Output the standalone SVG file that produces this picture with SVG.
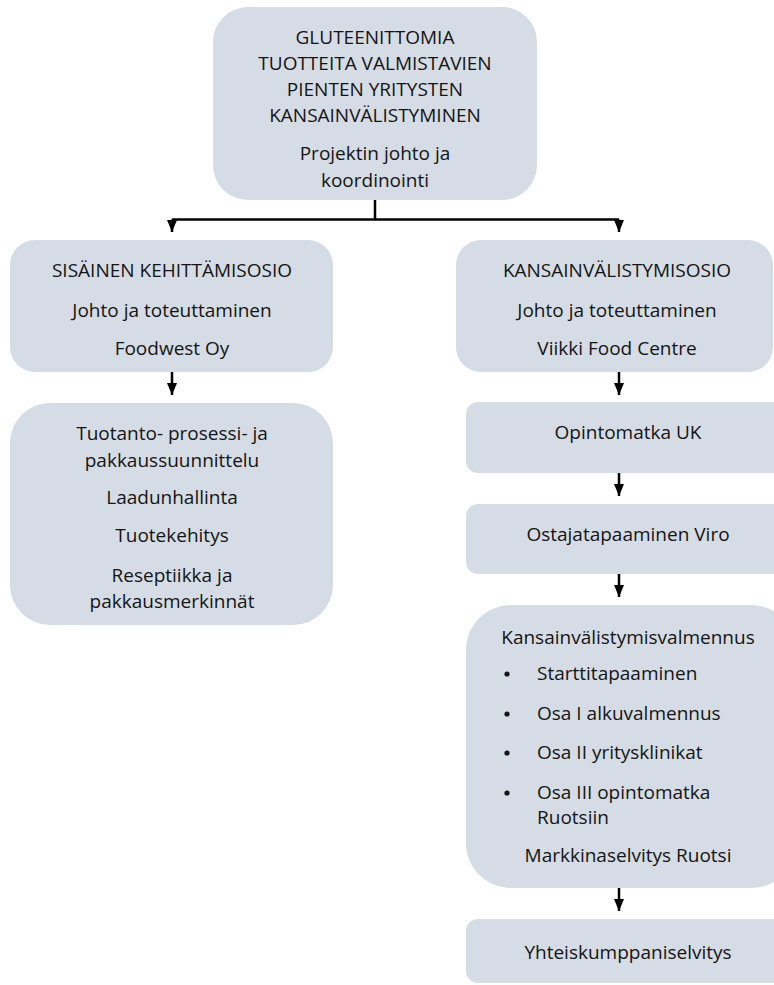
<svg xmlns="http://www.w3.org/2000/svg" width="774" height="985" viewBox="0 0 774 985">
<defs>
<marker id="ah" viewBox="0 0 12 10" refX="12" refY="5" markerWidth="12" markerHeight="10" markerUnits="userSpaceOnUse" orient="auto">
<path d="M0,0 L12,5 L0,10 Z" fill="#000"/>
</marker>
<style>
.box{fill:#D6DCE5;}
.t{font-family:"Open Sans","Liberation Sans",Arial,sans-serif;font-size:19px;fill:#141414;text-anchor:middle;}
.tl{font-family:"Open Sans","Liberation Sans",Arial,sans-serif;font-size:19px;fill:#141414;}
.c{fill:none;stroke:#000;stroke-width:2.5;}
</style>
</defs>
<rect width="774" height="985" fill="#fff"/>
<g id="connectors">
<path class="c" d="M375,200 V219.5"/>
<path class="c" d="M172,219.5 H619"/>
<path class="c" d="M172,219.5 V232" marker-end="url(#ah)"/>
<path class="c" d="M619,219.5 V232" marker-end="url(#ah)"/>
<path class="c" d="M172,372 V395" marker-end="url(#ah)"/>
<path class="c" d="M619,372 V395" marker-end="url(#ah)"/>
<path class="c" d="M619,473 V496" marker-end="url(#ah)"/>
<path class="c" d="M619,574 V597" marker-end="url(#ah)"/>
<path class="c" d="M619,888 V911" marker-end="url(#ah)"/>
</g>
<g id="top">
<rect class="box" x="213" y="7" width="324" height="193" rx="35"/>
<text class="t" x="375" y="44">GLUTEENITTOMIA</text>
<text class="t" x="375" y="70">TUOTTEITA VALMISTAVIEN</text>
<text class="t" x="375" y="96">PIENTEN YRITYSTEN</text>
<text class="t" x="375" y="122">KANSAINVÄLISTYMINEN</text>
<text class="t" x="375" y="160">Projektin johto ja</text>
<text class="t" x="375" y="187">koordinointi</text>
</g>
<g id="sisainen">
<rect class="box" x="10" y="240" width="323" height="132" rx="25"/>
<text class="t" x="172" y="277">SISÄINEN KEHITTÄMISOSIO</text>
<text class="t" x="172" y="317">Johto ja toteuttaminen</text>
<text class="t" x="172" y="355">Foodwest Oy</text>
</g>
<g id="kansainvalistymisosio">
<rect class="box" x="456" y="240" width="317" height="132" rx="25"/>
<text class="t" x="617" y="277">KANSAINVÄLISTYMISOSIO</text>
<text class="t" x="617" y="317">Johto ja toteuttaminen</text>
<text class="t" x="617" y="355">Viikki Food Centre</text>
</g>
<g id="tuotanto">
<rect class="box" x="10" y="403" width="323" height="222" rx="40"/>
<text class="t" x="172" y="440">Tuotanto- prosessi- ja</text>
<text class="t" x="172" y="467">pakkaussuunnittelu</text>
<text class="t" x="172" y="504">Laadunhallinta</text>
<text class="t" x="172" y="542">Tuotekehitys</text>
<text class="t" x="172" y="582">Reseptiikka ja</text>
<text class="t" x="172" y="608">pakkausmerkinnät</text>
</g>
<g id="opintomatka">
<rect class="box" x="466" y="402" width="330" height="71" rx="12"/>
<text class="t" x="628" y="439">Opintomatka UK</text>
</g>
<g id="ostaja">
<rect class="box" x="466" y="504" width="330" height="70" rx="12"/>
<text class="t" x="628" y="541">Ostajatapaaminen Viro</text>
</g>
<g id="valmennus">
<rect class="box" x="466" y="605" width="330" height="283" rx="45"/>
<text class="t" x="628" y="644">Kansainvälistymisvalmennus</text>
<circle cx="507" cy="674" r="2.6" fill="#141414"/>
<text class="tl" x="537" y="680">Starttitapaaminen</text>
<circle cx="507" cy="714" r="2.6" fill="#141414"/>
<text class="tl" x="537" y="720">Osa I alkuvalmennus</text>
<circle cx="507" cy="753" r="2.6" fill="#141414"/>
<text class="tl" x="537" y="759">Osa II yritysklinikat</text>
<circle cx="507" cy="793" r="2.6" fill="#141414"/>
<text class="tl" x="537" y="799">Osa III opintomatka</text>
<text class="tl" x="537" y="824">Ruotsiin</text>
<text class="t" x="628" y="862">Markkinaselvitys Ruotsi</text>
</g>
<g id="yhteis">
<rect class="box" x="466" y="919" width="330" height="64" rx="12"/>
<text class="t" x="628" y="959">Yhteiskumppaniselvitys</text>
</g>
</svg>
